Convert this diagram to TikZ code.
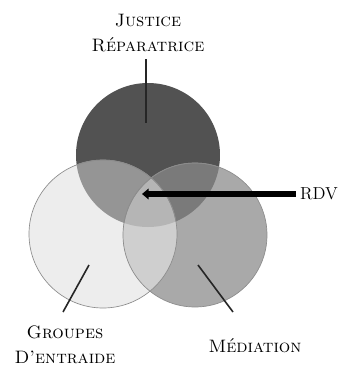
\documentclass[tikz,border=0pt]{standalone}
\usetikzlibrary{arrows.meta}
\definecolor{cT}{HTML}{525252}
\definecolor{cL}{HTML}{EDEDED}
\definecolor{cR}{HTML}{A9A9A9}
\definecolor{cTL}{HTML}{959595}
\definecolor{cTR}{HTML}{7A7A7A}
\definecolor{cLR}{HTML}{CFCFCF}
\definecolor{cTLR}{HTML}{B5B5B5}
\begin{document}
\begin{tikzpicture}[x=0.75pt,y=-0.75pt,
  lbl/.style={font=\fontsize{13.5}{16}\selectfont\scshape, align=center, inner sep=0pt},
  leader/.style={draw=black!85, line width=1.2pt},
  edge/.style={draw=black!45, line width=0.5pt}]
\useasboundingbox (0,0) rectangle (358,369);
\def\T{(148,155) circle (72)}
\def\L{(103,234) circle (74)}
\def\R{(195,235) circle (72)}
\fill[cT] \T;
\fill[cL] \L;
\fill[cR] \R;
\begin{scope}\clip \T; \fill[cTL] \L; \end{scope}
\begin{scope}\clip \T; \fill[cTR] \R; \end{scope}
\begin{scope}\clip \L; \fill[cLR] \R; \end{scope}
\begin{scope}\clip \T; \clip \L; \fill[cTLR] \R; \end{scope}
\draw[edge] \L;
\draw[edge] \R;
\begin{scope}\clip \T; \draw[edge] \L; \draw[edge] \R; \end{scope}
% labels
\node[lbl] (jr) at (148,33) {Justice\\[3pt]Réparatrice};
\node[lbl] (ge) at (65,345) {Groupes\\[3pt]D'entraide};
\node[lbl] (me) at (255,346) {Médiation};
\node[lbl, font=\fontsize{13}{15}\selectfont] (rdv) at (319,194) {RDV};
% leaders
\coordinate (jrA) at (146,59);
\coordinate (jrB) at (146,123);
\coordinate (geA) at (89,265);
\coordinate (geB) at (63,312);
\coordinate (meA) at (198,265);
\coordinate (meB) at (233,312);
\draw[leader] (jrA) -- (jrB);
\draw[leader] (geA) -- (geB);
\draw[leader] (meA) -- (meB);
\coordinate (rdvS) at (296,194);
\coordinate (rdvE) at (142,194);
\draw[line width=4.5pt, -{Triangle[length=5pt,width=8pt]}] (rdvS) -- (rdvE);
\end{tikzpicture}
\end{document}
